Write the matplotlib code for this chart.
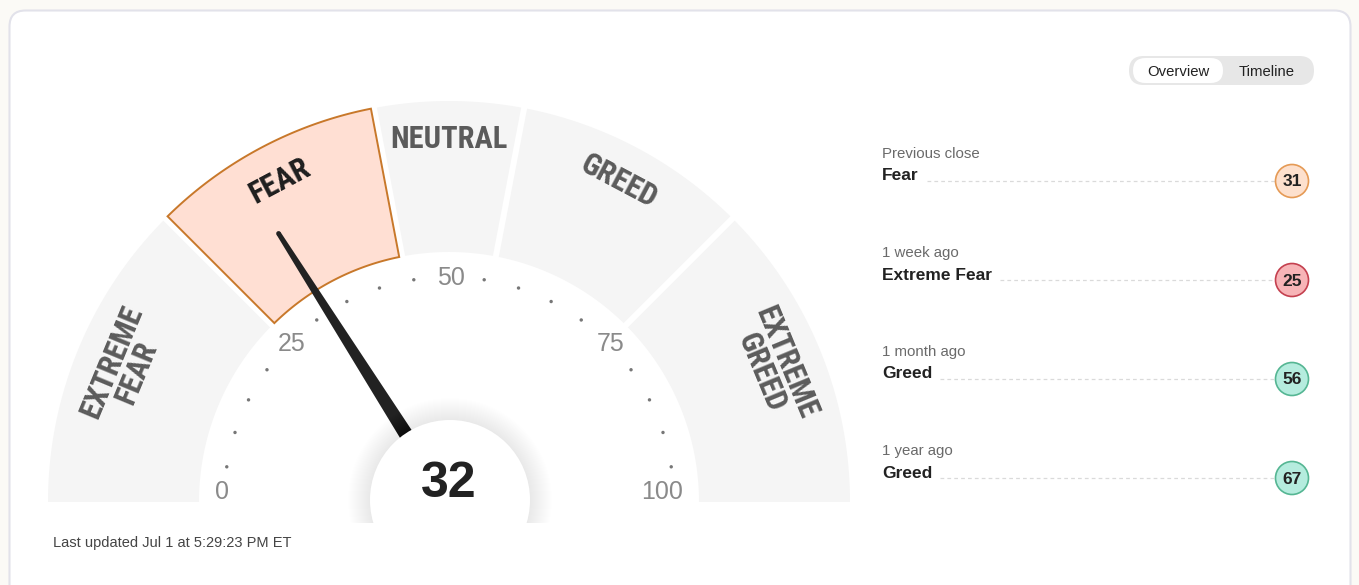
import numpy as np
import matplotlib
matplotlib.use("Agg")
import matplotlib.pyplot as plt
from matplotlib.patches import Polygon, Circle, FancyBboxPatch, Rectangle

# gauge data
zone_names = ["EXTREME\nFEAR", "FEAR", "NEUTRAL", "GREED", "EXTREME\nGREED"]
zone_edges = [0, 25, 44, 56, 75, 100]
current_value = 32
tick_values = [0, 25, 50, 75, 100]

# history panel data
history_periods = ["Previous close", "1 week ago", "1 month ago", "1 year ago"]
history_ratings = ["Fear", "Extreme Fear", "Greed", "Greed"]
history_values = [31, 25, 56, 67]
updated_text = "Last updated Jul 1 at 5:29:23 PM ET"

badge_fill = {"Extreme Fear": "#f7b4b7", "Fear": "#fde0cd", "Neutral": "#eeeeee",
              "Greed": "#b5ecde", "Extreme Greed": "#8fdcc4"}
badge_edge = {"Extreme Fear": "#c4404f", "Fear": "#e59a55", "Neutral": "#999999",
              "Greed": "#55b693", "Extreme Greed": "#2f9a72"}

W, H = 1359, 585
CX, CY = 449, 502
R_OUT, R_IN = 401, 250
GAP = 3.0
SANS = "Liberation Sans"
ZONE_FONT = ["Roboto Condensed", "Roboto", "DejaVu Sans"]


def ang(v):
    return np.radians(180 - 1.8 * v)


def pt(r, a):
    return CX + r * np.cos(a), CY - r * np.sin(a)


fig = plt.figure(figsize=(W / 100, H / 100), dpi=100)
fig.patch.set_facecolor("#fbfaf6")
ax = fig.add_axes([0, 0, 1, 1])
ax.set_xlim(0, W)
ax.set_ylim(H, 0)
ax.axis("off")

# card
ax.add_patch(FancyBboxPatch((9.5, 10.5), 1341, 640, boxstyle="round,pad=0,rounding_size=16",
                            fc="white", ec="#e2e2ea", lw=1.5, zorder=0))

# zone segments
active = np.searchsorted(zone_edges, current_value, side="right") - 1
for i, name in enumerate(zone_names):
    a0, a1 = ang(zone_edges[i]), ang(zone_edges[i + 1])
    outer, inner = [], []
    for r, lst in ((R_OUT, outer), (R_IN, inner)):
        d = np.arcsin(GAP / r)
        s = a0 - d if i > 0 else a0
        e = a1 + d if i < len(zone_names) - 1 else a1
        lst.extend(pt(r, a) for a in np.linspace(s, e, 80))
    verts = outer + inner[::-1]
    if i == active:
        ax.add_patch(Polygon(verts, closed=True, fc="#ffdfd3", ec="#c8782a", lw=1.4, zorder=3))
        tcol = "#1e1e1e"
    else:
        ax.add_patch(Polygon(verts, closed=True, fc="#f5f5f5", ec="none", zorder=2))
        tcol = "#5b5b5b"
    mid = (zone_edges[i] + zone_edges[i + 1]) / 2
    am = ang(mid)
    r_lab = 352 if "\n" in name else 363
    x, y = pt(r_lab, am)
    ax.text(x, y, name, rotation=np.degrees(am) - 90, ha="center", va="center",
            rotation_mode="anchor", multialignment="center", linespacing=0.88,
            fontsize=22, fontweight="bold", family=ZONE_FONT, color=tcol, zorder=5)

# dial dots and numbers
for v in range(0, 101, 5):
    a = ang(v)
    if v in tick_values:
        if v == 0:
            x, y = pt(234, a)
            ax.text(x, y - 10, str(v), ha="left", va="center", fontsize=18,
                    family=SANS, color="#8a8a8a", zorder=4)
        elif v == 100:
            x, y = pt(234, a)
            ax.text(x, y - 10, str(v), ha="right", va="center", fontsize=18,
                    family=SANS, color="#8a8a8a", zorder=4)
        else:
            x, y = pt(226, a)
            ax.text(x + 2, y + 2, str(v), ha="center", va="center", fontsize=18,
                    family=SANS, color="#8a8a8a", zorder=4)
    else:
        x, y = pt(225, a)
        ax.add_patch(Circle((x, y), 1.7, fc="#777777", ec="none", zorder=4))

# needle
a = ang(current_value)
d = np.array([np.cos(a), -np.sin(a)])
p = np.array([np.sin(a), np.cos(a)])
c = np.array([CX, CY], dtype=float)
r0, r1, w0, w1 = 60, 318, 7.4, 2.4
needle = [c + d * r0 + p * w0, c + d * r1 + p * w1, c + d * r1 - p * w1, c + d * r0 - p * w0]
ax.add_patch(Polygon(needle, closed=True, fc="#222222", ec="none", zorder=6))
ax.add_patch(Circle(tuple(c + d * r1), w1, fc="#222222", ec="none", zorder=6))

# centre disc with soft halo
clip = Rectangle((0, 0), W, 523, transform=ax.transData)
for k in range(22, 0, -1):
    halo = Circle((CX + 1, CY - 2), 80 + k, fc="black", ec="none", alpha=0.0025, zorder=7)
    ax.add_patch(halo)
    halo.set_clip_path(clip)
ax.add_patch(Circle((CX + 1, CY - 2), 80, fc="white", ec="none", zorder=8))
ax.text(CX, 484, str(current_value), ha="center", va="center", fontsize=36,
        fontweight="bold", family=SANS, color="#222222", zorder=9)

ax.text(53, 543, updated_text, ha="left", va="center", fontsize=10.5,
        family=SANS, color="#444444")

# toggle
ax.add_patch(FancyBboxPatch((1129, 56), 185, 29, boxstyle="round,pad=0,rounding_size=14.5",
                            fc="#e7e7e7", ec="none", zorder=2))
ax.add_patch(FancyBboxPatch((1133, 58), 90, 25, boxstyle="round,pad=0,rounding_size=12.5",
                            fc="white", ec="none", zorder=3))
ax.text(1178, 72, "Overview", ha="center", va="center", fontsize=10.7,
        family=SANS, color="#222222", zorder=4)
ax.text(1267, 72, "Timeline", ha="center", va="center", fontsize=10.7,
        family=SANS, color="#222222", zorder=4)

# history list
renderer = fig.canvas.get_renderer()
inv = ax.transData.inverted()
bx, br = 1292, 16.5
for i, (per, rat, val) in enumerate(zip(history_periods, history_ratings, history_values)):
    by = 181 + 99 * i
    ax.text(882, by - 27, per, ha="left", va="center", fontsize=10.8,
            family=SANS, color="#6a6a6a")
    t = ax.text(882, by - 5, rat, ha="left", va="center", fontsize=12.5,
                fontweight="bold", family=SANS, color="#222222")
    x_end = inv.transform(t.get_window_extent(renderer).get_points())[1][0]
    ax.plot([x_end + 8, bx - br], [by, by], color="#dadada", lw=0.9,
            linestyle=(0, (3, 2.5)), zorder=1)
    ax.add_patch(Circle((bx, by), br, fc=badge_fill[rat], ec=badge_edge[rat], lw=1.2, zorder=3))
    ax.text(bx, by + 1, str(val), ha="center", va="center", fontsize=12.5,
            fontweight="bold", family=SANS, color="#222222", zorder=4)

fig.savefig("out.png", dpi=100, facecolor=fig.get_facecolor())
